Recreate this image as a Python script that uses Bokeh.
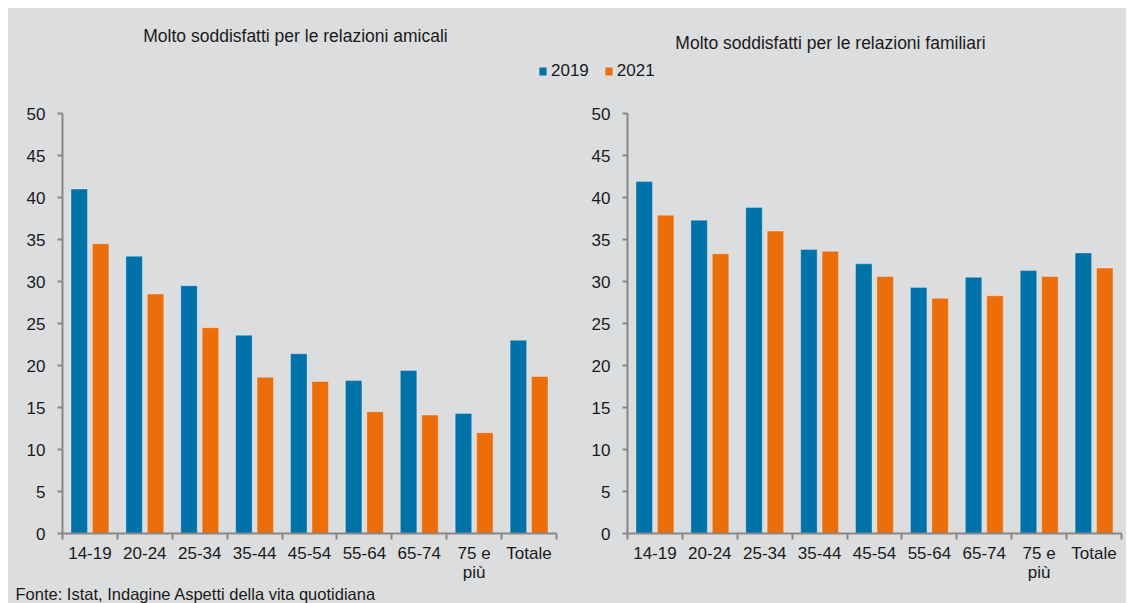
from bokeh.plotting import figure
from bokeh.models import ColumnDataSource, Range1d, FixedTicker, Legend, LegendItem
from bokeh.layouts import column, row
from bokeh.embed import file_html
from bokeh.resources import INLINE
from bokeh.core.properties import value
from bokeh.transform import dodge

# ---------------- data ----------------
categories = ["14-19", "20-24", "25-34", "35-44", "45-54", "55-64", "65-74", "75 e\npiù", "Totale"]
amicali_2019 = [41.0, 33.0, 29.5, 23.6, 21.4, 18.2, 19.4, 14.3, 23.0]
amicali_2021 = [34.5, 28.5, 24.5, 18.6, 18.1, 14.5, 14.1, 12.0, 18.7]
familiari_2019 = [41.9, 37.3, 38.8, 33.8, 32.1, 29.3, 30.5, 31.3, 33.4]
familiari_2021 = [37.9, 33.3, 36.0, 33.6, 30.6, 28.0, 28.3, 30.6, 31.6]
years = ["2019", "2021"]
y_ticks = [0, 5, 10, 15, 20, 25, 30, 35, 40, 45, 50]
title_amicali = "Molto soddisfatti per le relazioni amicali"
title_familiari = "Molto soddisfatti per le relazioni familiari"
source_note = "Fonte: Istat, Indagine Aspetti della vita quotidiana"

# ---------------- style ----------------
BG = "#dcdddf"
C19 = "#0072aa"
C21 = "#ec6e0a"
AXIS = "#878787"
TXT = "#1a1a1a"
FONT = "Liberation Sans"
FS = "17px"


def bar_fig(v19, v21, b_left, b_right):
    n = len(categories)
    centers = [i + 0.5 for i in range(n)]
    src = ColumnDataSource(dict(x=centers, v19=v19, v21=v21))
    p = figure(width=b_left + 494 + b_right, height=484,
               x_range=Range1d(0, n), y_range=Range1d(0, 50),
               output_backend="svg", toolbar_location=None,
               min_border_left=b_left, min_border_right=b_right,
               min_border_top=13, min_border_bottom=51,
               background_fill_color=BG, border_fill_color=BG,
               outline_line_color=None)
    for col, off, colr in (("v19", -0.195, C19), ("v21", 0.195, C21)):
        p.vbar(x=dodge("x", off, range=p.x_range), top=col, width=0.3, source=src,
               fill_color=colr, line_color="white", line_alpha=0.3, line_width=1)
    p.grid.grid_line_color = None

    ya = p.yaxis[0]
    ya.ticker = FixedTicker(ticks=y_ticks, minor_ticks=[])
    ya.axis_line_color = AXIS
    ya.axis_line_width = 2
    ya.major_tick_line_color = AXIS
    ya.major_tick_line_width = 2
    ya.major_tick_out = 5
    ya.major_tick_in = 0
    ya.minor_tick_line_color = None
    ya.major_label_text_font = FONT
    ya.major_label_text_font_size = FS
    ya.major_label_text_color = TXT
    ya.major_label_standoff = 12

    xa = p.xaxis[0]
    xa.ticker = FixedTicker(ticks=centers, minor_ticks=list(range(n + 1)))
    xa.major_label_overrides = {c: lab for c, lab in zip(centers, categories)}
    xa.axis_line_color = AXIS
    xa.axis_line_width = 2
    xa.major_tick_line_color = None
    xa.major_tick_out = 0
    xa.major_tick_in = 0
    xa.minor_tick_line_color = AXIS
    xa.minor_tick_line_width = 2
    xa.minor_tick_out = 6
    xa.minor_tick_in = 0
    xa.major_label_text_font = FONT
    xa.major_label_text_font_size = FS
    xa.major_label_text_color = TXT
    xa.major_label_text_line_height = 1.0
    xa.major_label_standoff = 4
    return p


left = bar_fig(amicali_2019, amicali_2021, 54, 19)
right = bar_fig(familiari_2019, familiari_2021, 52, 5)

# ---------------- header (titles + legend) ----------------
top = figure(width=1118, height=92, x_range=Range1d(0, 1118), y_range=Range1d(92, 0),
             output_backend="svg", toolbar_location=None, min_border=0,
             background_fill_color=BG, border_fill_color=BG, outline_line_color=None)
top.axis.visible = False
top.grid.grid_line_color = None
top.text(x=[287, 822], y=[27, 34], text=[title_amicali, title_familiari],
         text_align="center", text_baseline="middle", text_font=value(FONT),
         text_font_size="17.5px", text_color=TXT)
# legend proxies: zero-height bars placed outside the visible range
r19 = top.vbar(x=[-100], top=[0], bottom=[0], width=1, fill_color=C19, line_color=None)
r21 = top.vbar(x=[-100], top=[0], bottom=[0], width=1, fill_color=C21, line_color=None)
legend = Legend(items=[LegendItem(label=years[0], renderers=[r19]),
                       LegendItem(label=years[1], renderers=[r21])],
                location=(530, 19), orientation="horizontal",
                glyph_width=9, glyph_height=10, label_standoff=4, spacing=15,
                padding=0, margin=0, border_line_color=None, background_fill_alpha=0,
                label_text_font=FONT, label_text_font_size=FS, label_text_color=TXT)
top.add_layout(legend, "center")

# ---------------- footer (source) ----------------
bottom = figure(width=1118, height=19, x_range=Range1d(0, 1118), y_range=Range1d(19, 0),
                output_backend="svg", toolbar_location=None, min_border=0,
                background_fill_color=BG, border_fill_color=BG, outline_line_color=None)
bottom.axis.visible = False
bottom.grid.grid_line_color = None
bottom.text(x=[7], y=[9], text=[source_note], text_align="left", text_baseline="middle",
            text_font=value(FONT), text_font_size="16.5px", text_color=TXT)

mid = row(left, right, styles={"background-color": BG})
layout = column(top, mid, bottom, styles={"background-color": BG})
layout.margin = (8, 3, 0, 8)
open("out.html", "w").write(file_html(layout, INLINE))
